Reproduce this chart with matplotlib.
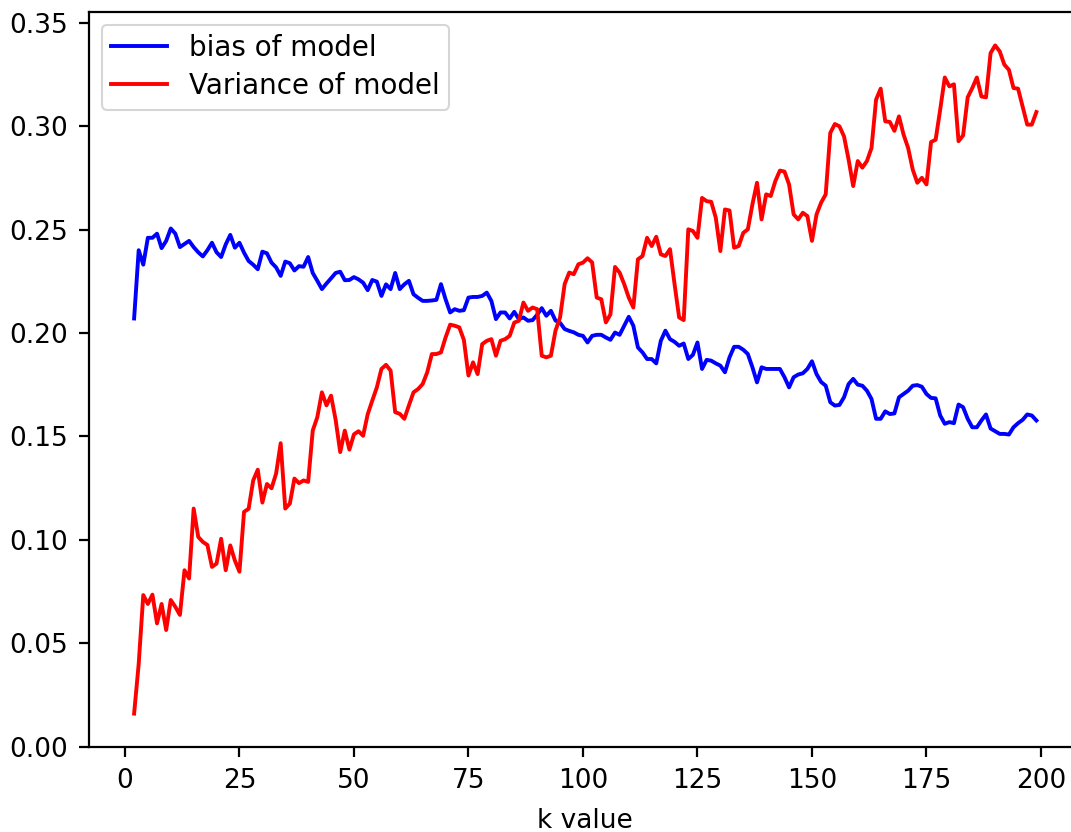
import numpy as np
import matplotlib
matplotlib.use("Agg")
import matplotlib.pyplot as plt

k_values = list(range(2, 200))

bias = [
    0.207, 0.240, 0.233, 0.246, 0.246, 0.248, 0.241, 0.2445, 0.2505, 0.248,
    0.2415, 0.243, 0.2445, 0.2415, 0.239, 0.237, 0.240, 0.2436, 0.239, 0.2367,
    0.2428, 0.2474, 0.2412, 0.2436, 0.2388, 0.2348, 0.233, 0.2308, 0.2393, 0.2385,
    0.234, 0.2317, 0.2276, 0.2345, 0.2337, 0.2302, 0.2323, 0.232, 0.2367, 0.229,
    0.2252, 0.2212, 0.2239, 0.2264, 0.229, 0.2296, 0.2255, 0.2256, 0.227, 0.2259,
    0.2243, 0.2207, 0.2256, 0.2248, 0.2179, 0.2235, 0.2212, 0.229, 0.2212, 0.2235,
    0.2252, 0.2187, 0.217, 0.2155, 0.2155, 0.2157, 0.2160, 0.2236, 0.2163, 0.2099,
    0.2115, 0.2107, 0.2110, 0.2171, 0.2174, 0.2174, 0.2179, 0.2195, 0.2155, 0.2067,
    0.2099, 0.2099, 0.207, 0.2102, 0.2067, 0.2075, 0.2059, 0.2062, 0.2088, 0.2120,
    0.2083, 0.2107, 0.206, 0.2049, 0.2019, 0.2010, 0.2003, 0.1991, 0.1986, 0.1954,
    0.1986, 0.1991, 0.1991, 0.1978, 0.1967, 0.2002, 0.1991, 0.2035, 0.2078, 0.2035,
    0.193, 0.1906, 0.1874, 0.1874, 0.1853, 0.1962, 0.2011, 0.197, 0.1957, 0.1938,
    0.1949, 0.1874, 0.1894, 0.1954, 0.1826, 0.187, 0.1866, 0.1853, 0.1842, 0.181,
    0.1882, 0.1933, 0.1933, 0.1919, 0.1898, 0.1834, 0.1761, 0.1834, 0.1826, 0.1826,
    0.1826, 0.1826, 0.1786, 0.1737, 0.1786, 0.1799, 0.1805, 0.1826, 0.1863, 0.1801,
    0.1763, 0.1745, 0.1665, 0.1649, 0.1652, 0.1689, 0.1753, 0.1778, 0.175, 0.1745,
    0.1721, 0.1681, 0.1585, 0.1585, 0.1621, 0.1608, 0.1611, 0.1689, 0.1705, 0.1721,
    0.1745, 0.1748, 0.1740, 0.1705, 0.1686, 0.1684, 0.1601, 0.1561, 0.1569, 0.1564,
    0.1654, 0.1641, 0.1585, 0.1544, 0.1544, 0.1577, 0.1606, 0.1538, 0.1525, 0.1512,
    0.1512, 0.1509, 0.1544, 0.1564, 0.158, 0.1606, 0.1601, 0.1577,
]

variance = [
    0.016, 0.040, 0.0733, 0.069, 0.0735, 0.0596, 0.069, 0.0564, 0.0709, 0.0676,
    0.0637, 0.0853, 0.0813, 0.1151, 0.1014, 0.099, 0.0975, 0.0869, 0.0885, 0.1005,
    0.0853, 0.0973, 0.090, 0.0846, 0.1135, 0.115, 0.1287, 0.1339, 0.118, 0.127,
    0.1249, 0.132, 0.1467, 0.1151, 0.1175, 0.1296, 0.1274, 0.1287, 0.128, 0.1528,
    0.1593, 0.1713, 0.165, 0.1697, 0.158, 0.1424, 0.1528, 0.1436, 0.151, 0.1525,
    0.1503, 0.1607, 0.1673, 0.1737, 0.1826, 0.1846, 0.1818, 0.1617, 0.1609, 0.1585,
    0.165, 0.1713, 0.1729, 0.1753, 0.181, 0.1898, 0.1898, 0.1906, 0.1978, 0.204,
    0.2035, 0.2027, 0.1966, 0.1794, 0.1858, 0.1801, 0.1946, 0.1962, 0.1970, 0.189,
    0.1962, 0.197, 0.1986, 0.205, 0.2059, 0.2147, 0.2107, 0.2123, 0.2115, 0.189,
    0.1882, 0.189, 0.2011, 0.2075, 0.2236, 0.2292, 0.2284, 0.2332, 0.234, 0.2361,
    0.2341, 0.2171, 0.2163, 0.2051, 0.209, 0.2319, 0.2292, 0.2236, 0.2171, 0.2123,
    0.2356, 0.2372, 0.246, 0.242, 0.2465, 0.238, 0.2372, 0.2405, 0.2236, 0.2075,
    0.2062, 0.2501, 0.2493, 0.246, 0.2653, 0.2637, 0.2634, 0.2557, 0.2396, 0.2597,
    0.2592, 0.2412, 0.242, 0.2484, 0.2501, 0.2622, 0.2726, 0.2549, 0.267, 0.2662,
    0.2734, 0.2785, 0.278, 0.2718, 0.2573, 0.2549, 0.2581, 0.2565, 0.2445, 0.2573,
    0.263, 0.267, 0.2967, 0.301, 0.2999, 0.295, 0.2838, 0.271, 0.2831, 0.2799,
    0.2831, 0.2894, 0.3128, 0.3181, 0.3023, 0.302, 0.2977, 0.3047, 0.2959, 0.2894,
    0.279, 0.2726, 0.275, 0.2718, 0.2923, 0.2934, 0.308, 0.3235, 0.3192, 0.3202,
    0.2927, 0.2955, 0.3139, 0.3184, 0.3235, 0.3143, 0.3139, 0.3353, 0.339, 0.3361,
    0.3297, 0.3272, 0.3184, 0.3181, 0.3095, 0.3007, 0.3007, 0.3068,
]

x_ticks = [0, 25, 50, 75, 100, 125, 150, 175, 200]
y_ticks = [0.00, 0.05, 0.10, 0.15, 0.20, 0.25, 0.30, 0.35]

W, H = 1071, 832
fig = plt.figure(figsize=(W / 100, H / 100), dpi=100)
ax = fig.add_axes([89 / W, 85 / H, (1081.5 - 89) / W, 735 / H])

ax.plot(k_values, bias, color="blue", lw=2.8, label="bias of model")
ax.plot(k_values, variance, color="red", lw=2.8, label="Variance of model")

ax.set_xticks(x_ticks)
ax.set_yticks(y_ticks)
ax.set_yticklabels([f"{v:.2f}" for v in y_ticks])
ax.tick_params(labelsize=19, length=7, width=1.6, pad=8)
for s in ax.spines.values():
    s.set_linewidth(1.6)
ax.spines["right"].set_visible(False)
ax.set_xlabel("k value", fontsize=19, labelpad=10)

leg = ax.legend(loc="upper left", fontsize=20, labelspacing=0.35,
                borderpad=0.35, borderaxespad=0.45)
leg.get_frame().set_linewidth(1.5)

fig.savefig("out.png", dpi=100)
